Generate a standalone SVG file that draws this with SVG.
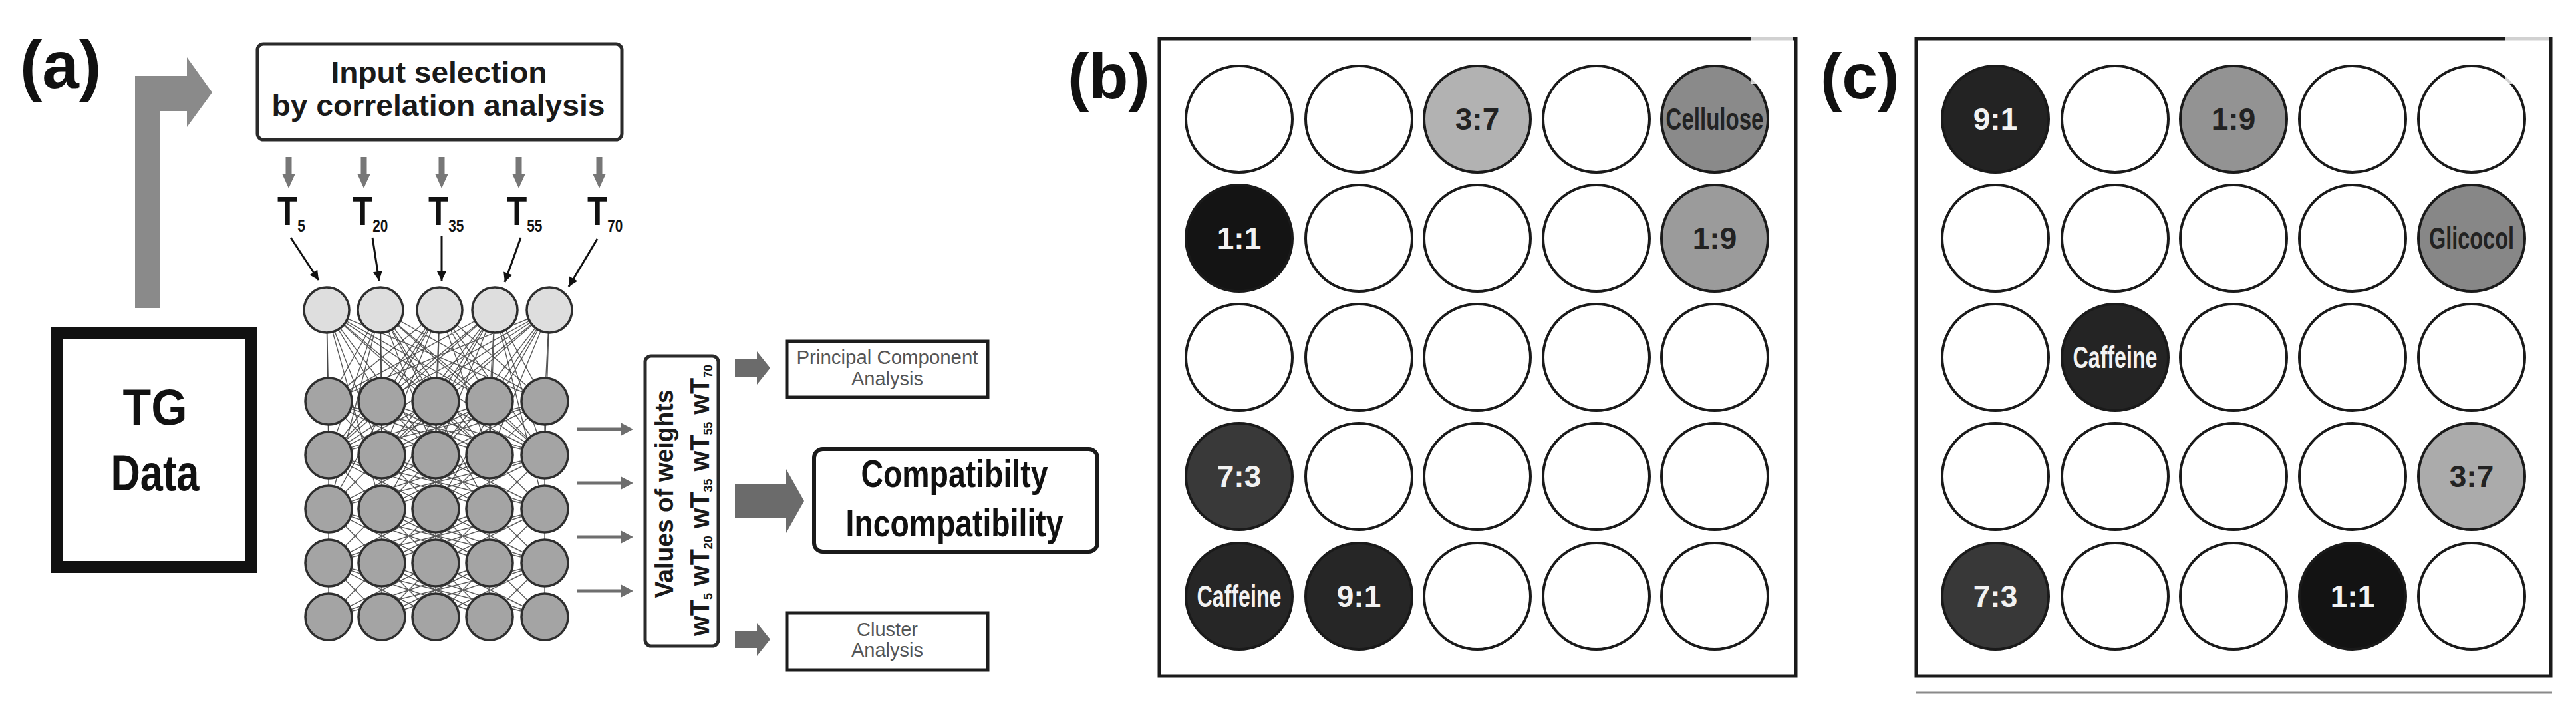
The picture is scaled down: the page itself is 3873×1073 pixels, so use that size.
<svg xmlns="http://www.w3.org/2000/svg" xmlns:xlink="http://www.w3.org/1999/xlink" width="3873" height="1073" viewBox="0 0 3873 1073">
<defs>
<style>
.f{font-family:"Liberation Sans",Arial,Helvetica,sans-serif}
.b{font-weight:bold}
.box{fill:#fff;stroke:#1c1c1c;stroke-width:5}
.rbox{fill:#fff;stroke:#2a2a2a;stroke-width:5}
.in{fill:#dedede;stroke:#2e2e2e;stroke-width:3.5}
.hid{fill:#a4a4a4;stroke:#2e2e2e;stroke-width:3.5}
.mesh{fill:none;stroke:#3c3c3c;stroke-width:1.4;stroke-opacity:0.85}
.well{stroke:#1a1a1a;stroke-width:4}
.w0{fill:#fff}
.frame{fill:#fff;stroke:#1a1a1a;stroke-width:5}
.lbl{font-size:46px;font-weight:bold;text-anchor:middle}
.dk{fill:#222}
.wt{fill:#f2f2f2}
.garrow{fill:#777}
.barrow{fill:#6b6b6b}
.tarrow{stroke:#111;stroke-width:3;fill:none;marker-end:url(#ah)}
.tl{font-size:62px}
.sub{font-size:26px}
</style>
<marker id="ah" viewBox="0 0 10 10" refX="10" refY="5" markerWidth="18" markerHeight="14" markerUnits="userSpaceOnUse" orient="auto">
<path d="M0,0 L10,5 L0,10 z" fill="#111"/>
</marker>
<path id="hpair" d="M494 603L494 684M494 603L574 684M494 603L655 684M494 603L736 684M494 603L819 684M574 603L494 684M574 603L574 684M574 603L655 684M574 603L736 684M574 603L819 684M655 603L494 684M655 603L574 684M655 603L655 684M655 603L736 684M655 603L819 684M736 603L494 684M736 603L574 684M736 603L655 684M736 603L736 684M736 603L819 684M819 603L494 684M819 603L574 684M819 603L655 684M819 603L736 684M819 603L819 684"/>
<path id="sdown" d="M-4.5 236H4.5V262H9.5L0 283L-9.5 262H-4.5Z"/>
<path id="sright" d="M868 -2.5H934V-9.5L952 0L934 9.5V2.5H868Z"/>
</defs>
<rect width="3873" height="1073" fill="#fff"/>

<!-- Panel labels -->
<text class="f b" x="30" y="132" font-size="100" fill="#111">(a)</text>
<text class="f b" x="1605" y="148" font-size="97" fill="#111">(b)</text>
<text class="f b" x="2737" y="148" font-size="97" fill="#111">(c)</text>

<!-- connectors -->
<g id="connectors">
<path d="M203 463V114H281V86L319 139L281 191V167H241V463Z" fill="#8a8a8a"/>
<g class="garrow">
<use xlink:href="#sdown" transform="translate(434,0)"/>
<use xlink:href="#sdown" transform="translate(547,0)"/>
<use xlink:href="#sdown" transform="translate(664,0)"/>
<use xlink:href="#sdown" transform="translate(780,0)"/>
<use xlink:href="#sdown" transform="translate(901,0)"/>
</g>
<line class="tarrow" x1="437" y1="357" x2="479" y2="421"/>
<line class="tarrow" x1="560" y1="357" x2="570" y2="422"/>
<line class="tarrow" x1="664" y1="354" x2="664" y2="422"/>
<line class="tarrow" x1="783" y1="357" x2="759" y2="424"/>
<line class="tarrow" x1="898" y1="359" x2="855" y2="431"/>
<g class="mesh">
<path d="M491 466L494 603M491 466L574 603M491 466L655 603M491 466L736 603M491 466L819 603M572 466L494 603M572 466L574 603M572 466L655 603M572 466L736 603M572 466L819 603M661 466L494 603M661 466L574 603M661 466L655 603M661 466L736 603M661 466L819 603M744 466L494 603M744 466L574 603M744 466L655 603M744 466L736 603M744 466L819 603M826 466L494 603M826 466L574 603M826 466L655 603M826 466L736 603M826 466L819 603"/>
<path d="M491 466L494 684M491 466L574 684M491 466L655 684M491 466L736 684M491 466L819 684M572 466L494 684M572 466L574 684M572 466L655 684M572 466L736 684M572 466L819 684M661 466L494 684M661 466L574 684M661 466L655 684M661 466L736 684M661 466L819 684M744 466L494 684M744 466L574 684M744 466L655 684M744 466L736 684M744 466L819 684M826 466L494 684M826 466L574 684M826 466L655 684M826 466L736 684M826 466L819 684"/>
<path d="M491 466L574 765M572 466L736 765M661 466L494 765M744 466L819 765M826 466L655 765M572 466L494 765M744 466L574 765"/>
<use xlink:href="#hpair"/>
<use xlink:href="#hpair" transform="translate(0,81)"/>
<use xlink:href="#hpair" transform="translate(0,162)"/>
<use xlink:href="#hpair" transform="translate(0,243)"/>
</g>
<g style="fill:#6e6e6e">
<use xlink:href="#sright" transform="translate(0,645)"/>
<use xlink:href="#sright" transform="translate(0,726)"/>
<use xlink:href="#sright" transform="translate(0,807)"/>
<use xlink:href="#sright" transform="translate(0,888)"/>
</g>
<g class="barrow">
<path d="M1105 540H1138V528L1158 553L1138 578V566H1105Z"/>
<path d="M1105 728H1182V705L1209 753L1182 801V778H1105Z"/>
<path d="M1105 948H1138V936L1158 961L1138 986V974H1105Z"/>
</g>
</g>

<!-- Panel (a) nodes -->
<g id="tg-data">
<rect x="86" y="500" width="291" height="352" fill="#fff" stroke="#111" stroke-width="18"/>
<text class="f b" x="233" y="638" font-size="76" text-anchor="middle" textLength="97" lengthAdjust="spacingAndGlyphs" fill="#111">TG</text>
<text class="f b" x="233" y="737" font-size="76" text-anchor="middle" textLength="133" lengthAdjust="spacingAndGlyphs" fill="#111">Data</text>
</g>
<g id="input-selection">
<rect class="rbox" x="387" y="66" width="548" height="144" rx="9"/>
<text class="f b" x="660" y="124" font-size="45" text-anchor="middle" textLength="325" lengthAdjust="spacingAndGlyphs" fill="#1a1a1a">Input selection</text>
<text class="f b" x="659" y="174" font-size="45" text-anchor="middle" textLength="501" lengthAdjust="spacingAndGlyphs" fill="#1a1a1a">by correlation analysis</text>
</g>
<g id="t-labels" class="f b" fill="#111">
<text class="tl" transform="translate(417,338) scale(0.8,1)">T<tspan class="sub" dy="10">5</tspan></text>
<text class="tl" transform="translate(530,338) scale(0.8,1)">T<tspan class="sub" dy="10">20</tspan></text>
<text class="tl" transform="translate(644,338) scale(0.8,1)">T<tspan class="sub" dy="10">35</tspan></text>
<text class="tl" transform="translate(762,338) scale(0.8,1)">T<tspan class="sub" dy="10">55</tspan></text>
<text class="tl" transform="translate(883,338) scale(0.8,1)">T<tspan class="sub" dy="10">70</tspan></text>
</g>
<g id="input-layer">
<circle class="in" cx="491" cy="466" r="34"/>
<circle class="in" cx="572" cy="466" r="34"/>
<circle class="in" cx="661" cy="466" r="34"/>
<circle class="in" cx="744" cy="466" r="34"/>
<circle class="in" cx="826" cy="466" r="34"/>
</g>
<g id="hidden-layers">
<g id="hrow">
<circle class="hid" cx="494" cy="603" r="35"/>
<circle class="hid" cx="574" cy="603" r="35"/>
<circle class="hid" cx="655" cy="603" r="35"/>
<circle class="hid" cx="736" cy="603" r="35"/>
<circle class="hid" cx="819" cy="603" r="35"/>
</g>
<use xlink:href="#hrow" transform="translate(0,81)"/>
<use xlink:href="#hrow" transform="translate(0,162)"/>
<use xlink:href="#hrow" transform="translate(0,243)"/>
<use xlink:href="#hrow" transform="translate(0,324)"/>
</g>
<g id="values-of-weights">
<rect class="rbox" x="970" y="535" width="110" height="436" rx="9"/>
<text class="f b" transform="translate(1012,742) rotate(-90)" font-size="38" text-anchor="middle" textLength="313" lengthAdjust="spacingAndGlyphs" fill="#1a1a1a">Values of weights</text>
<text class="f b" transform="translate(1066,752) rotate(-90)" font-size="40" text-anchor="middle" textLength="408" lengthAdjust="spacingAndGlyphs" fill="#1a1a1a">wT<tspan font-size="18" dy="5">5</tspan><tspan dy="-5">  wT</tspan><tspan font-size="18" dy="5">20</tspan><tspan dy="-5">  wT</tspan><tspan font-size="18" dy="5">35</tspan><tspan dy="-5">  wT</tspan><tspan font-size="18" dy="5">55</tspan><tspan dy="-5">  wT</tspan><tspan font-size="18" dy="5">70</tspan></text>
</g>
<g id="pca">
<rect class="box" x="1183" y="513" width="302" height="84"/>
<text class="f" x="1334" y="547" font-size="29" text-anchor="middle" textLength="273" lengthAdjust="spacingAndGlyphs" fill="#555">Principal Component</text>
<text class="f" x="1334" y="579" font-size="29" text-anchor="middle" fill="#555">Analysis</text>
</g>
<g id="compatibility">
<rect x="1224" y="675" width="426" height="154" rx="13" fill="#fff" stroke="#1a1a1a" stroke-width="6"/>
<text class="f b" x="1435" y="732" font-size="57" text-anchor="middle" textLength="281" lengthAdjust="spacingAndGlyphs" fill="#111">Compatibilty</text>
<text class="f b" x="1435" y="806" font-size="57" text-anchor="middle" textLength="327" lengthAdjust="spacingAndGlyphs" fill="#111">Incompatibility</text>
</g>
<g id="cluster">
<rect class="box" x="1183" y="921" width="302" height="86"/>
<text class="f" x="1334" y="956" font-size="29" text-anchor="middle" fill="#555">Cluster</text>
<text class="f" x="1334" y="987" font-size="29" text-anchor="middle" fill="#555">Analysis</text>
</g>

<!-- Panel (b) -->
<g id="panel-b">
<rect class="frame" x="1743" y="58" width="957" height="958"/>
<g class="f">
<circle class="well w0" cx="1863" cy="179" r="80"/>
<circle class="well w0" cx="2043" cy="179" r="80"/>
<circle class="well" cx="2221" cy="179" r="80" fill="#b2b2b2"/>
<text class="lbl dk" x="2221" y="195">3:7</text>
<circle class="well w0" cx="2400" cy="179" r="80"/>
<circle class="well" cx="2578" cy="179" r="80" fill="#8a8a8a"/>
<text class="lbl dk" x="2578" y="195" font-size="44" textLength="147" lengthAdjust="spacingAndGlyphs">Cellulose</text>

<circle class="well" cx="1863" cy="358" r="80" fill="#141414"/>
<text class="lbl wt" x="1863" y="374">1:1</text>
<circle class="well w0" cx="2043" cy="358" r="80"/>
<circle class="well w0" cx="2221" cy="358" r="80"/>
<circle class="well w0" cx="2400" cy="358" r="80"/>
<circle class="well" cx="2578" cy="358" r="80" fill="#9b9b9b"/>
<text class="lbl dk" x="2578" y="374">1:9</text>

<circle class="well w0" cx="1863" cy="537" r="80"/>
<circle class="well w0" cx="2043" cy="537" r="80"/>
<circle class="well w0" cx="2221" cy="537" r="80"/>
<circle class="well w0" cx="2400" cy="537" r="80"/>
<circle class="well w0" cx="2578" cy="537" r="80"/>

<circle class="well" cx="1863" cy="716" r="80" fill="#393939"/>
<text class="lbl wt" x="1863" y="732">7:3</text>
<circle class="well w0" cx="2043" cy="716" r="80"/>
<circle class="well w0" cx="2221" cy="716" r="80"/>
<circle class="well w0" cx="2400" cy="716" r="80"/>
<circle class="well w0" cx="2578" cy="716" r="80"/>

<circle class="well" cx="1863" cy="896" r="80" fill="#262626"/>
<text class="lbl wt" x="1863" y="912" font-size="44" textLength="127" lengthAdjust="spacingAndGlyphs">Caffeine</text>
<circle class="well" cx="2043" cy="896" r="80" fill="#262626"/>
<text class="lbl wt" x="2043" y="912">9:1</text>
<circle class="well w0" cx="2221" cy="896" r="80"/>
<circle class="well w0" cx="2400" cy="896" r="80"/>
<circle class="well w0" cx="2578" cy="896" r="80"/>
</g>
<rect x="2632" y="52" width="64" height="74" fill="#fff" fill-opacity="0.8"/>
</g>

<!-- Panel (c) -->
<g id="panel-c">
<rect class="frame" x="2881" y="58" width="954" height="958"/>
<g class="f">
<circle class="well" cx="3000" cy="179" r="80" fill="#232323"/>
<text class="lbl wt" x="3000" y="195">9:1</text>
<circle class="well w0" cx="3180" cy="179" r="80"/>
<circle class="well" cx="3358" cy="179" r="80" fill="#939393"/>
<text class="lbl dk" x="3358" y="195">1:9</text>
<circle class="well w0" cx="3537" cy="179" r="80"/>
<circle class="well w0" cx="3716" cy="179" r="80"/>

<circle class="well w0" cx="3000" cy="358" r="80"/>
<circle class="well w0" cx="3180" cy="358" r="80"/>
<circle class="well w0" cx="3358" cy="358" r="80"/>
<circle class="well w0" cx="3537" cy="358" r="80"/>
<circle class="well" cx="3716" cy="358" r="80" fill="#878787"/>
<text class="lbl dk" x="3716" y="374" font-size="44" textLength="128" lengthAdjust="spacingAndGlyphs">Glicocol</text>

<circle class="well w0" cx="3000" cy="537" r="80"/>
<circle class="well" cx="3180" cy="537" r="80" fill="#242424"/>
<text class="lbl wt" x="3180" y="553" font-size="44" textLength="127" lengthAdjust="spacingAndGlyphs">Caffeine</text>
<circle class="well w0" cx="3358" cy="537" r="80"/>
<circle class="well w0" cx="3537" cy="537" r="80"/>
<circle class="well w0" cx="3716" cy="537" r="80"/>

<circle class="well w0" cx="3000" cy="716" r="80"/>
<circle class="well w0" cx="3180" cy="716" r="80"/>
<circle class="well w0" cx="3358" cy="716" r="80"/>
<circle class="well w0" cx="3537" cy="716" r="80"/>
<circle class="well" cx="3716" cy="716" r="80" fill="#ababab"/>
<text class="lbl dk" x="3716" y="732">3:7</text>

<circle class="well" cx="3000" cy="896" r="80" fill="#383838"/>
<text class="lbl wt" x="3000" y="912">7:3</text>
<circle class="well w0" cx="3180" cy="896" r="80"/>
<circle class="well w0" cx="3358" cy="896" r="80"/>
<circle class="well" cx="3537" cy="896" r="80" fill="#131313"/>
<text class="lbl wt" x="3537" y="912">1:1</text>
<circle class="well w0" cx="3716" cy="896" r="80"/>
</g>
<rect x="3766" y="52" width="66" height="74" fill="#fff" fill-opacity="0.8"/>
<line x1="2881" y1="1041" x2="3837" y2="1041" stroke="#8a8a8a" stroke-width="3"/>
</g>
</svg>
